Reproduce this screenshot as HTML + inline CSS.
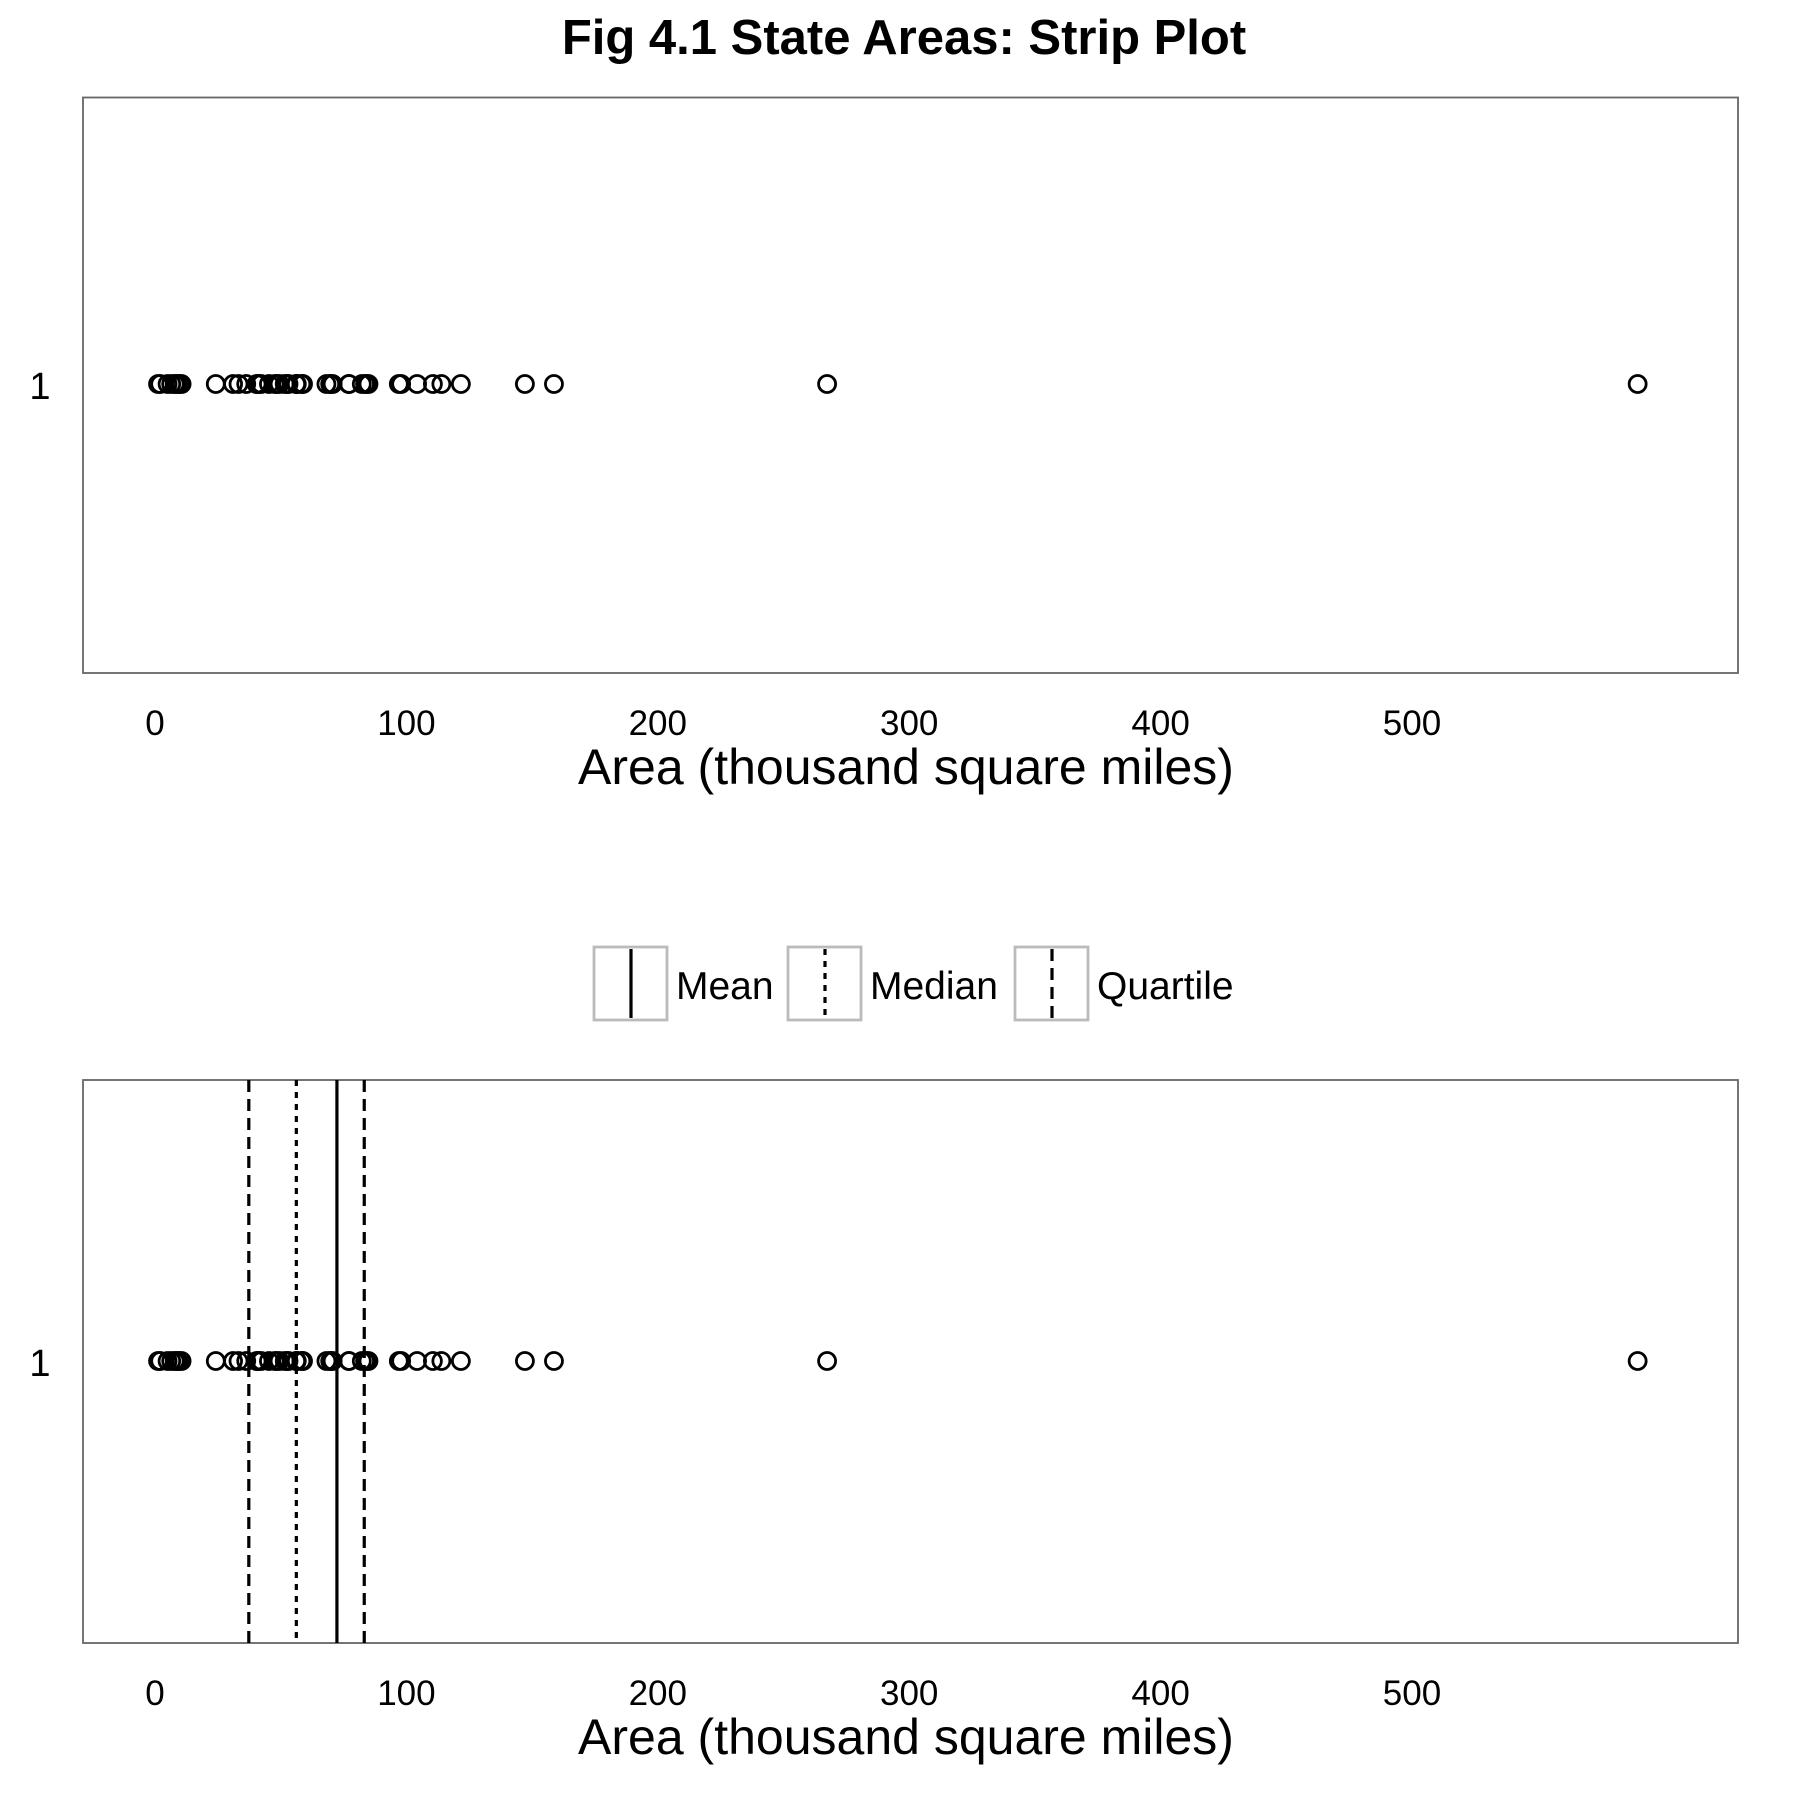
<!DOCTYPE html>
<html><head><meta charset="utf-8"><style>body{margin:0;background:#fff}svg{display:block}text{font-family:"Liberation Sans",Arial,sans-serif}</style></head>
<body>
<svg id="c" width="1800" height="1800" viewBox="0 0 1800 1800" xmlns="http://www.w3.org/2000/svg">
<text x="904" y="54" text-anchor="middle" font-size="49" font-weight="bold">Fig 4.1 State Areas: Strip Plot</text>
<g id="top"></g><g id="bot"></g><g id="leg"></g>
</svg>
<script>
const areas = [51.609,589.757,113.909,53.104,158.693,104.247,5.009,2.057,58.56,58.876,6.45,83.557,56.4,36.291,56.29,82.264,40.395,48.523,33.215,10.577,8.257,58.216,84.068,47.716,69.686,147.138,77.227,110.54,9.304,7.836,121.666,49.576,52.586,70.665,41.222,69.919,96.981,45.333,1.214,31.055,77.047,42.244,267.339,84.916,9.609,40.815,68.192,24.181,56.154,97.914];
const xTicks = [0,100,200,300,400,500];
const yCategories = ["1"];
const NS="http://www.w3.org/2000/svg";
const X0=83,X1=1738;
const xs=v=>155+v*2.514;
function mk(p,t,a){const e=document.createElementNS(NS,t);for(const k in a)e.setAttribute(k,a[k]);p.appendChild(e);return e;}
const sorted=[...areas].sort((a,b)=>a-b);
function q(p){const h=(sorted.length-1)*p,l=Math.floor(h);return sorted[l]+(sorted[Math.min(l+1,sorted.length-1)]-sorted[l])*(h-l);}
const mean=areas.reduce((a,b)=>a+b,0)/areas.length;
const stats=[{v:q(0.25),d:"12,7",n:"quartile-line-q1"},{v:q(0.5),d:"6,6",n:"median-line"},{v:mean,d:"",n:"mean-line"},{v:q(0.75),d:"12,7",n:"quartile-line-q3"}];
function panel(g,top,bottom,rowY,showStats,pre){
  let r=mk(g,'rect',{x:X0,y:top,width:X1-X0,height:bottom-top,fill:'none',stroke:'#666','stroke-width':1.8});
  
  if(showStats){stats.forEach(s=>{let l=mk(g,'line',{x1:xs(s.v),x2:xs(s.v),y1:top,y2:bottom,stroke:'#000','stroke-width':3.2});if(s.d)l.setAttribute('stroke-dasharray',s.d);
    });}
  areas.forEach(v=>{let c=mk(g,'circle',{cx:xs(v),cy:rowY,r:8.5,fill:'none',stroke:'#000','stroke-width':2.8});
    });
  yCategories.forEach(cat=>{let t=mk(g,'text',{x:40,y:rowY+15,'text-anchor':'middle','font-size':38});t.textContent=cat;
    });
  xTicks.forEach(v=>{let t=mk(g,'text',{x:xs(v),y:bottom+62,'text-anchor':'middle','font-size':35});t.textContent=v;
    });
  let at=mk(g,'text',{x:906,y:bottom+111,'text-anchor':'middle','font-size':50});at.textContent='Area (thousand square miles)';
  
}
panel(document.getElementById('top'),97.5,673,384,false,'top-');
panel(document.getElementById('bot'),1080,1643,1361,true,'bottom-');
const leg=document.getElementById('leg');
const items=[{x:594,lbl:'Mean',d:''},{x:788,lbl:'Median',d:'6,6'},{x:1015,lbl:'Quartile',d:'12,7'}];
items.forEach(it=>{
  let b=mk(leg,'rect',{x:it.x,y:947,width:73,height:73,fill:'none',stroke:'#bbb','stroke-width':2.8});
  
  let l=mk(leg,'line',{x1:it.x+37,x2:it.x+37,y1:949,y2:1018,stroke:'#000','stroke-width':3.2});if(it.d)l.setAttribute('stroke-dasharray',it.d);
  
  let t=mk(leg,'text',{x:it.x+82,y:999,'font-size':39});t.textContent=it.lbl;
  
});
</script>
</body></html>
